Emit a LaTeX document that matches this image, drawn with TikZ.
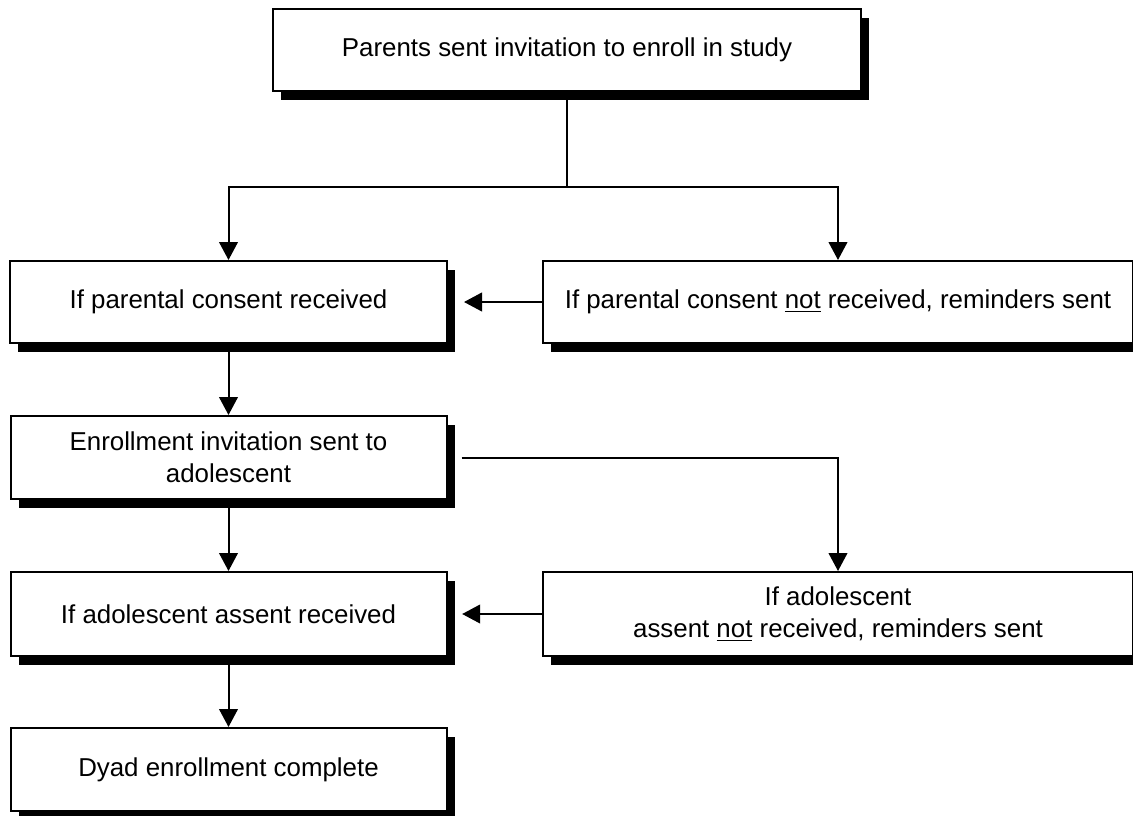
\documentclass[tikz,border=0pt]{standalone}
\usepackage{fontspec}
\setmainfont{Liberation Sans}
\usetikzlibrary{arrows.meta,shadows}
\begin{document}
\begin{tikzpicture}[x=0.75pt,y=-0.75pt,
  box/.style={draw=black, line width=1.5pt, fill=white, inner sep=0pt, align=center,
    font=\fontsize{19.4}{24}\selectfont,
    drop shadow={shadow xshift=6.3pt, shadow yshift=-6.8pt, opacity=1, fill=black}},
  conn/.style={line width=1.5pt, draw=black},
  arr/.style={conn, -{Triangle[length=13.5pt,width=14pt]}}
]
\useasboundingbox (0,0) rectangle (1133,815);
\clip (0,0) rectangle (1133,815);
\node[box, minimum width=441pt, minimum height=61.5pt] (T) at (567,50) {Parents sent invitation to enroll in study};
\node[box, minimum width=327.75pt, minimum height=61.5pt] (A) at (228.5,302) {If parental consent received};
\node[box, minimum width=442.5pt, minimum height=61.5pt] (B) at (838,302) {If parental consent \underline{not} received, reminders sent};
\node[box, minimum width=327pt, minimum height=62.25pt] (C) at (228.5,457.5) {Enrollment invitation sent to\\adolescent};
\node[box, minimum width=442.5pt, minimum height=63pt] (D) at (838,614) {If adolescent\\assent \underline{not} received, reminders sent};
\node[box, minimum width=327pt, minimum height=63pt] (E) at (228.5,614) {If adolescent assent received};
\node[box, minimum width=327pt, minimum height=62.25pt] (F) at (228.5,769.5) {Dyad enrollment complete};
\coordinate (J) at (567,187);
\draw[conn] (T.south) -- (J);
\draw[arr] (J) -| (A.north);
\draw[arr] (J) -| (B.north);
\draw[arr, shorten >=12pt] (B.west) -- (A.east);
\draw[arr] (A.south) -- (C.north);
\draw[arr, shorten <=10.5pt] (C.east) -| (D.north);
\draw[arr] (C.south) -- (E.north);
\draw[arr, shorten >=11pt] (D.west) -- (E.east);
\draw[arr] (E.south) -- (F.north);
\end{tikzpicture}
\end{document}
